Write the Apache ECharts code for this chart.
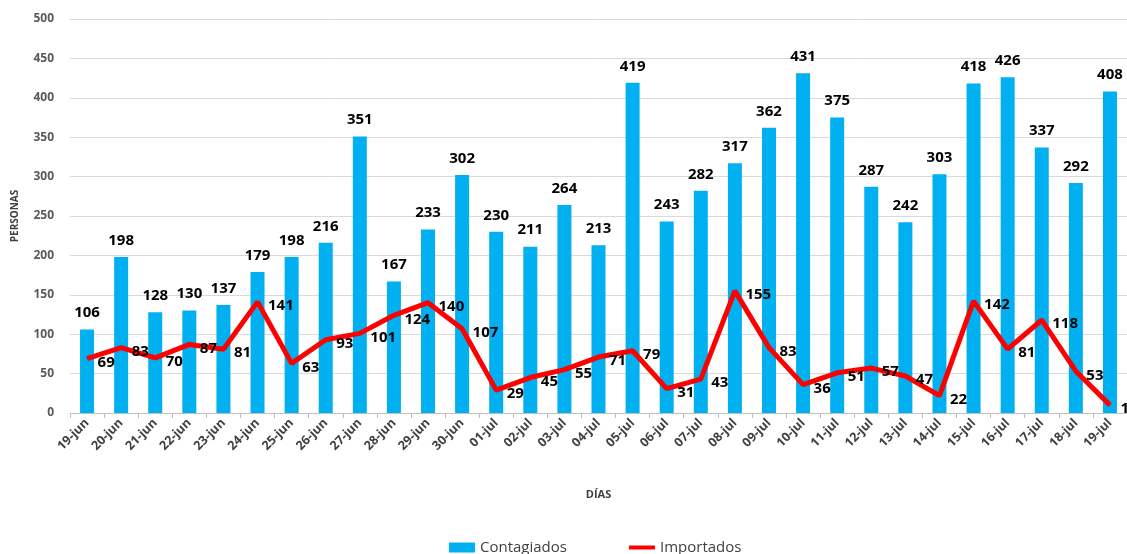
<!DOCTYPE html>
<html>
<head>
<meta charset="utf-8">
<script src="https://cdn.jsdelivr.net/npm/echarts@6/dist/echarts.min.js"></script>
<style>
  html, body { margin: 0; padding: 0; background: #fff; }
  #chart { width: 1127px; height: 554px; }
</style>
</head>
<body>
<div id="chart"></div>
<script>
// categorías (días)
var dias = ['19-jun','20-jun','21-jun','22-jun','23-jun','24-jun','25-jun','26-jun','27-jun','28-jun','29-jun','30-jun',
  '01-jul','02-jul','03-jul','04-jul','05-jul','06-jul','07-jul','08-jul','09-jul','10-jul','11-jul','12-jul',
  '13-jul','14-jul','15-jul','16-jul','17-jul','18-jul','19-jul'];
var contagiados = [106,198,128,130,137,179,198,216,351,167,233,302,230,211,264,213,419,243,282,317,362,431,375,287,242,303,418,426,337,292,408];
var importados = [69,83,70,87,81,141,63,93,101,124,140,107,29,45,55,71,79,31,43,155,83,36,51,57,47,22,142,81,118,53,10];

var font = '"Open Sans", "Liberation Sans", sans-serif';
var myChart = echarts.init(document.getElementById('chart'));
myChart.setOption({
    animation: false,
    textStyle: { fontFamily: font },
    grid: {
        left: 70,
        right: -4,
        top: 19,
        bottom: 141
    },
    legend: {
        left: 444,
        top: 535,
        itemGap: 62,
        itemWidth: 26,
        itemHeight: 10,
        textStyle: { fontSize: 15, color: '#404040', fontFamily: font },
        data: [
            { name: 'Contagiados', icon: 'rect' },
            { name: 'Importados', icon: 'path://M0 0 H26 V4 H0 Z' }
        ]
    },
    xAxis: {
        type: 'category',
        data: dias,
        name: 'DÍAS',
        nameLocation: 'middle',
        nameGap: 76,
        nameTextStyle: { fontSize: 11, fontWeight: 'bold', color: '#404040' },
        axisLine: { lineStyle: { color: '#bfbfbf' } },
        axisTick: { show: true, alignWithLabel: false, length: 5, lineStyle: { color: '#bfbfbf' } },
        axisLabel: {
            rotate: 45,
            interval: 0,
            fontSize: 12.5,
            fontWeight: 'bold',
            color: '#404040',
            margin: 8
        }
    },
    yAxis: {
        type: 'value',
        min: 0,
        max: 500,
        interval: 50,
        name: 'PERSONAS',
        nameLocation: 'middle',
        nameGap: 50,
        nameRotate: 90,
        nameTextStyle: { fontSize: 10, fontWeight: 'bold', color: '#404040' },
        axisLine: { show: false },
        axisTick: { show: false },
        axisLabel: { fontSize: 12, fontWeight: 'bold', color: '#595959', margin: 16 },
        splitLine: { lineStyle: { color: '#d9d9d9', width: 1 } }
    },
    series: [{
        name: 'Contagiados',
        type: 'bar',
        data: contagiados,
        barWidth: 14,
        itemStyle: { color: '#00b0f0' },
        label: {
            show: true,
            position: 'top',
            distance: 9,
            fontSize: 15,
            fontWeight: 'bold',
            color: '#000'
        }
    }, {
        name: 'Importados',
        type: 'line',
        data: importados,
        symbol: 'circle',
        symbolSize: 1,
        showSymbol: true,
        lineStyle: { color: '#ff0000', width: 5 },
        itemStyle: { color: '#ff0000' },
        label: {
            show: true,
            position: 'right',
            distance: 10,
            offset: [0, 4],
            fontSize: 15,
            fontWeight: 'bold',
            color: '#000'
        },
        z: 3
    }]
});
</script>
</body>
</html>
